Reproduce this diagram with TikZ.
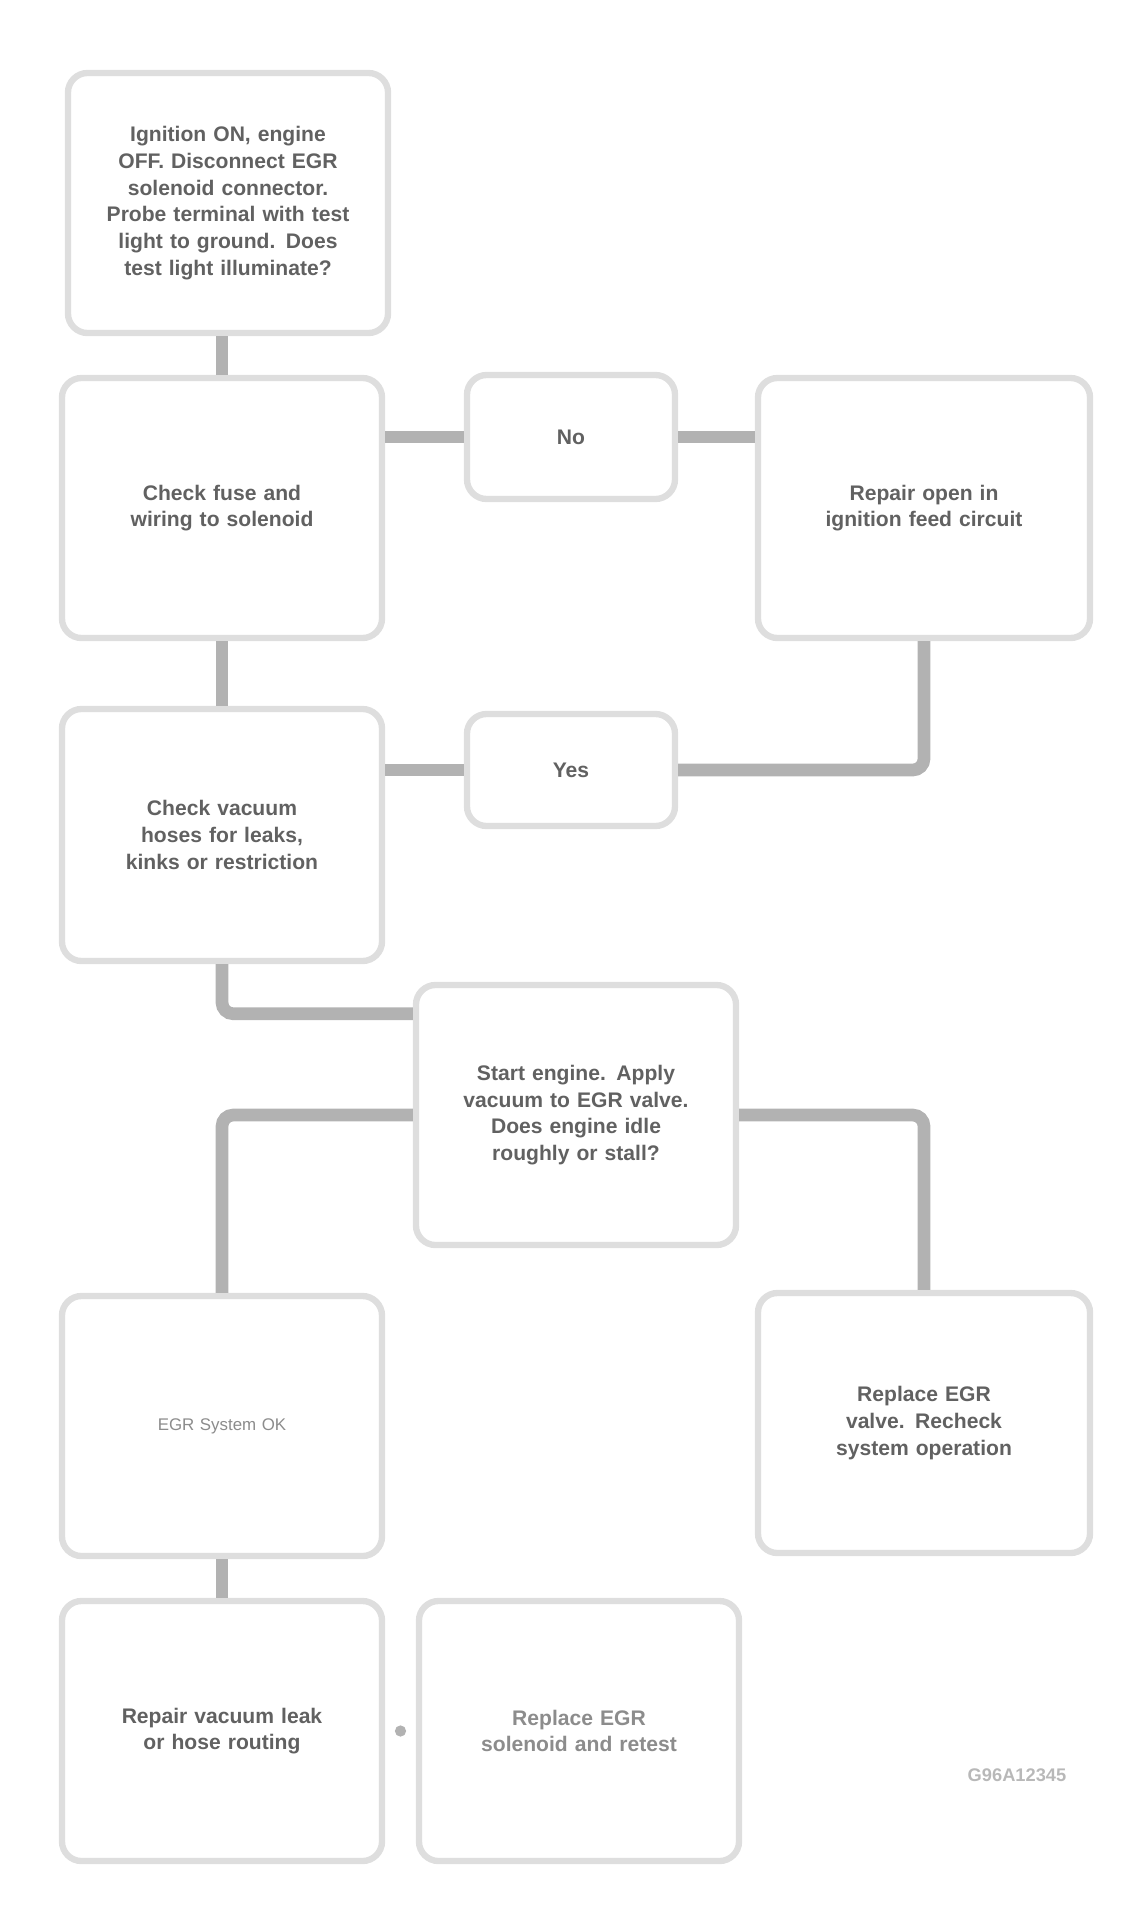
\documentclass[tikz,border=0pt]{standalone}
\usepackage{fontspec}
\setmainfont{Liberation Sans}
\usetikzlibrary{calc}

\begin{document}
\begin{tikzpicture}[x=0.025cm,y=-0.025cm,
    box/.style={draw=black!13,line width=4.5pt,rounded corners=14pt,fill=white,
      minimum width=8cm,minimum height=6.5cm,text width=6.6cm,align=center,
      font=\fontsize{15}{19}\selectfont\bfseries,text=black!62},
    small/.style={box,minimum width=5.2cm,minimum height=3.1cm,text width=2cm},
    link/.style={draw=black!30,line width=9pt,rounded corners=8pt}]
  \useasboundingbox (0,0) rectangle (1134,1926);

  \node[box] (start) at (228,203) {Ignition ON, engine OFF. Disconnect EGR solenoid connector. Probe terminal with test light to ground. Does test light illuminate?};
  \node[box] (fuse) at (222,508) {Check fuse and wiring to solenoid};
  \node[small] (no1) at (571,437) {No};
  \node[box,minimum width=8.3cm] (feed) at (924,508) {Repair open in\\ ignition feed circuit};
  \node[box,minimum height=6.3cm,text width=6cm] (hose) at (222,835) {Check vacuum hoses for leaks, kinks or restriction};
  \node[small,minimum height=2.8cm] (no2) at (571,770) {Yes};
  \node[box,text width=6cm] (idle) at (576,1115) {Start engine. Apply vacuum to EGR valve. Does engine idle roughly or stall?};
  \node[box,font=\fontsize{12}{14}\selectfont,text=black!45] (ok) at (222,1426) {EGR System OK};
  \node[box,minimum width=8.3cm] (valve) at (924,1423) {Replace EGR valve. Recheck system operation};
  \node[box] (leak) at (222,1731) {Repair vacuum leak or hose routing};
  \node[box,text=black!45,text width=6cm] (sol) at (579,1731) {Replace EGR solenoid and retest};

  \draw[link] (start.south -| fuse) -- (fuse);
  \draw[link] (no1.west -| fuse.east) -- (no1.west);
  \draw[link] (no1.east) -- (no1.east -| feed.west);
  \draw[link] (feed.south) |- (no2.east);
  \draw[link] (no2.west -| hose.east) -- (no2.west);
  \draw[link] (fuse) -- (hose);
  \draw[link] (hose.south) |- ($(idle.north west)!.12!(idle.south west)$);
  \draw[link] (idle.west) -| (ok.north);
  \draw[link] (idle.east) -| (valve.north);
  \draw[link] (ok) -- (leak);
  \fill[black!30] ($(leak.east)!.5!(sol.west)$) circle (4pt);

  \node[font=\fontsize{13}{15}\selectfont\bfseries,text=black!28] (fig) at (1017,1775) {G96A12345};
\end{tikzpicture}
\end{document}
